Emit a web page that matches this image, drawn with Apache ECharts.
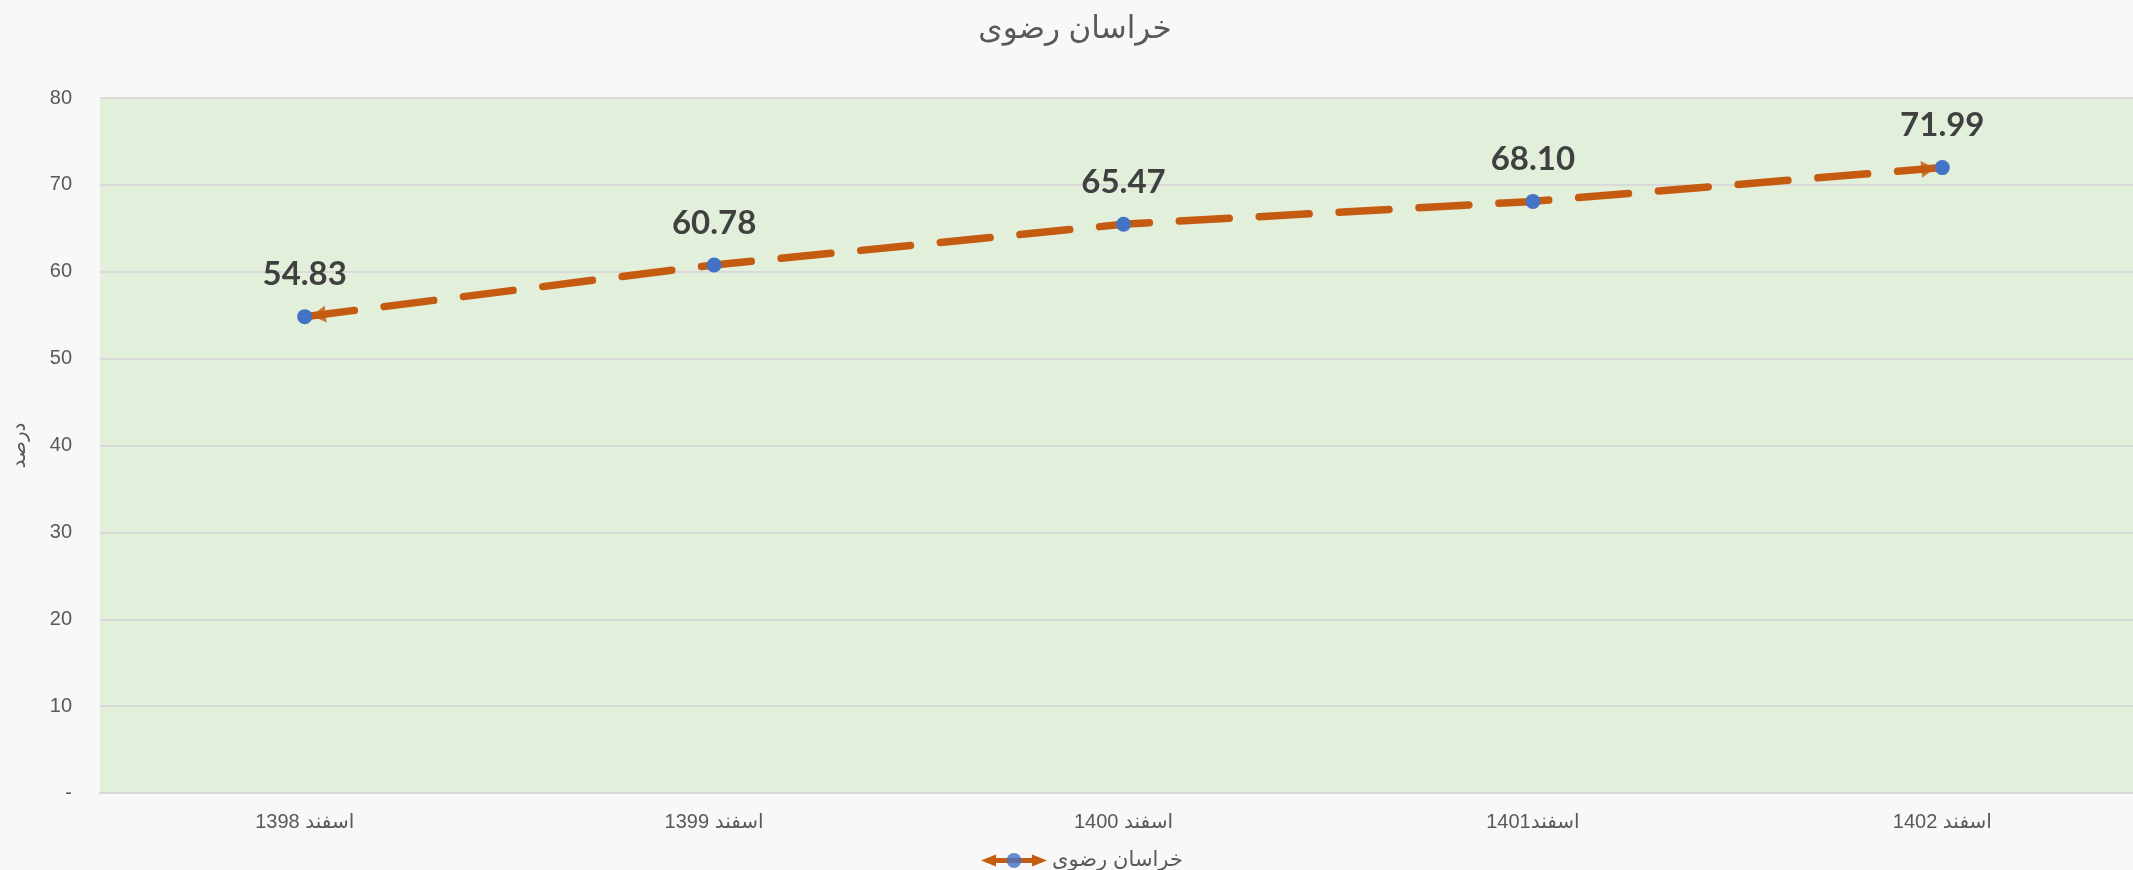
<!DOCTYPE html>
<html>
<head>
<meta charset="utf-8">
<script src="https://cdn.jsdelivr.net/npm/echarts@6/dist/echarts.min.js"></script>
<style>
html,body{margin:0;padding:0;background:#f8f8f8;overflow:hidden;}
#chart{width:2147px;height:870px;}
</style>
</head>
<body>
<div id="chart" dir="rtl"></div>
<script>
const chartTitle = 'خراسان رضوی';
const seriesName = 'خراسان رضوی';
const arrowName = 'arrows';
const yAxisName = 'درصد';
const categories = ['اسفند 1398', 'اسفند 1399', 'اسفند 1400', 'اسفند1401', 'اسفند 1402'];
const values = [54.83, 60.78, 65.47, 68.10, 71.99];
const yTicks = [0, 10, 20, 30, 40, 50, 60, 70, 80];

const FONT = "'Liberation Sans', 'DejaVu Sans', Arial, sans-serif";
const TEXT = '#595959';
const ORANGE = '#C55A11';
const BLUE = '#4472C4';

const arrowData = [
  { value: [0, values[0]], symbolRotate: 97, symbolOffset: [14, -1.8] },
  { value: [values.length - 1, values[values.length - 1]], symbolRotate: -85, symbolOffset: [-14, 1.2] }
];

const legendArrowIcon = 'path://M0,7.5 L15,1.5 L15,5 L51,5 L51,1.5 L66,7.5 L51,13.5 L51,10 L15,10 L15,13.5 Z';
const legendLeft = 976;
const legendTop = 845;

const chart = echarts.init(document.getElementById('chart'), null, { renderer: 'canvas' });
chart.setOption({
  backgroundColor: '#f8f8f8',
  animation: false,
  title: {
    text: chartTitle,
    left: 1070,
    textAlign: 'center',
    top: 9,
    textStyle: { fontFamily: FONT, fontSize: 31, fontWeight: 'normal', color: TEXT }
  },
  legend: [
    {
      data: [{ name: seriesName, icon: legendArrowIcon, itemStyle: { color: ORANGE, borderWidth: 0 } }],
      top: legendTop,
      left: legendLeft,
      itemWidth: 66,
      itemHeight: 15,
      selectedMode: false,
      z: 4,
      textStyle: { fontFamily: FONT, fontSize: 21, color: TEXT }
    },
    {
      data: [{ name: arrowName, icon: 'circle', itemStyle: { color: BLUE, borderWidth: 0 } }],
      formatter: () => ' ',
      top: legendTop,
      left: legendLeft + 25.5,
      itemWidth: 15,
      itemHeight: 15,
      selectedMode: false,
      z: 5,
      textStyle: { fontFamily: FONT, fontSize: 21, color: TEXT }
    }
  ],
  grid: {
    left: 100,
    right: 0,
    top: 98,
    bottom: 77,
    outerBoundsMode: 'none',
    show: true,
    backgroundColor: '#E2EFDA',
    borderWidth: 0
  },
  xAxis: {
    type: 'category',
    data: categories,
    boundaryGap: true,
    axisLine: { show: true, lineStyle: { color: '#D9D9D9', width: 2 } },
    axisTick: { show: false },
    axisLabel: { fontFamily: FONT, fontSize: 20, color: TEXT, margin: 19 }
  },
  yAxis: {
    type: 'value',
    min: yTicks[0],
    max: yTicks[yTicks.length - 1],
    interval: 10,
    name: yAxisName,
    nameLocation: 'middle',
    nameGap: 71,
    nameRotate: 90,
    nameTextStyle: { fontFamily: FONT, fontSize: 20, color: TEXT },
    axisLine: { show: false },
    axisTick: { show: false },
    splitLine: { show: true, lineStyle: { color: '#D9D9D9', width: 2 } },
    axisLabel: {
      fontFamily: FONT, fontSize: 20, color: TEXT, margin: 28,
      formatter: v => (v === 0 ? '-' : String(v))
    }
  },
  series: [
    {
      name: arrowName,
      type: 'scatter',
      data: arrowData,
      z: 2,
      symbol: 'triangle',
      symbolSize: [17, 14],
      itemStyle: { color: ORANGE },
      silent: true
    },
    {
      name: seriesName,
      type: 'line',
      data: values,
      z: 3,
      symbol: 'circle',
      symbolSize: 15,
      itemStyle: { color: BLUE },
      lineStyle: { color: ORANGE, width: 7.5, type: [50, 30], cap: 'round' },
      label: {
        show: true,
        position: 'top',
        distance: 18,
        formatter: p => p.value.toFixed(2),
        fontFamily: "Lato, 'Open Sans', sans-serif",
        fontWeight: 'bold',
        fontSize: 33,
        color: '#404040'
      }
    }
  ]
});
</script>
</body>
</html>
